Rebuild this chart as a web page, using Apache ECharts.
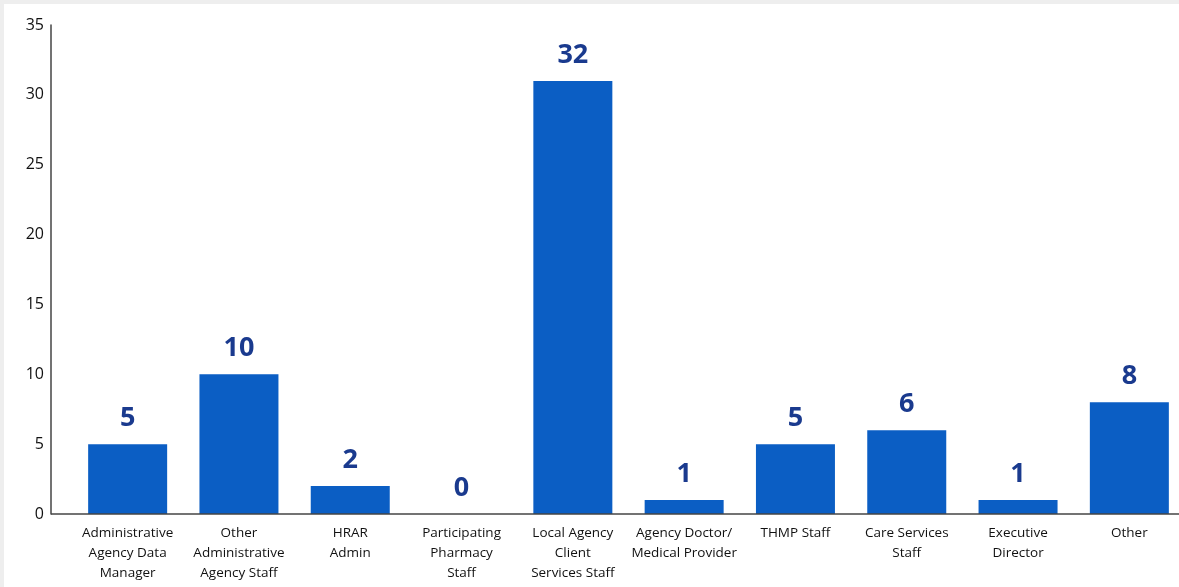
<!DOCTYPE html>
<html><head><meta charset="utf-8">
<script src="https://cdn.jsdelivr.net/npm/echarts@6/dist/echarts.min.js"></script>
<style>html,body{margin:0;padding:0;background:#fff}#c{width:1179px;height:587px}</style>
</head><body><div id="c"></div>
<script>
const categories = [
  'Administrative\nAgency Data\nManager',
  'Other\nAdministrative\nAgency Staff',
  'HRAR\nAdmin',
  'Participating\nPharmacy\nStaff',
  'Local Agency\nClient\nServices Staff',
  'Agency Doctor/\nMedical Provider',
  'THMP Staff',
  'Care Services\nStaff',
  'Executive\nDirector',
  'Other'
];
const barValues = [5, 10, 2, 0, 31, 1, 5, 6, 1, 8];
const barLabels = ['5', '10', '2', '0', '32', '1', '5', '6', '1', '8'];
const yTicks = [0, 5, 10, 15, 20, 25, 30, 35];

const chart = echarts.init(document.getElementById('c'));
chart.setOption({
  animation: false,
  backgroundColor: '#ffffff',
  grid: { left: 72, width: 1113, top: 25, bottom: 73, outerBoundsMode: 'none', containLabel: false },
  xAxis: {
    type: 'category',
    data: categories,
    axisLine: { show: false },
    axisTick: { show: false },
    axisLabel: {
      interval: 0, margin: 9, color: '#111',
      fontFamily: '"Open Sans", sans-serif',
      fontSize: 13.5, lineHeight: 20, letterSpacing: -0.3
    }
  },
  yAxis: {
    type: 'value', min: 0, max: yTicks[yTicks.length - 1], interval: 5,
    offset: 21,
    axisLine: { show: true, lineStyle: { color: '#444', width: 1.5 } },
    axisTick: { show: false },
    splitLine: { show: false },
    axisLabel: { color: '#111', fontSize: 16, margin: 7, fontFamily: '"Open Sans", sans-serif' }
  },
  series: [{
    type: 'bar',
    data: barValues,
    barWidth: 79,
    itemStyle: { color: '#0b5ec4' },
    label: {
      show: true, position: 'top', distance: 12,
      formatter: p => barLabels[p.dataIndex],
      color: '#1a3a8e', fontSize: 27, fontWeight: 'bold',
      fontFamily: '"Open Sans", sans-serif'
    }
  }]
});
const p0 = chart.convertToPixel({ gridIndex: 0 }, [0, 0]);
chart.setOption({
  graphic: [
    { type: 'rect', z: -1, shape: { x: 0, y: 0, width: 1179, height: 4 }, style: { fill: '#eeeeee' } },
    { type: 'rect', z: -1, shape: { x: 0, y: 0, width: 4, height: 587 }, style: { fill: '#eeeeee' } },
    {
      type: 'line', z: 10,
      shape: { x1: 51, y1: p0[1], x2: 1179, y2: p0[1] },
      style: { stroke: '#444', lineWidth: 1.5 }
    }
  ]
});
</script></body></html>
